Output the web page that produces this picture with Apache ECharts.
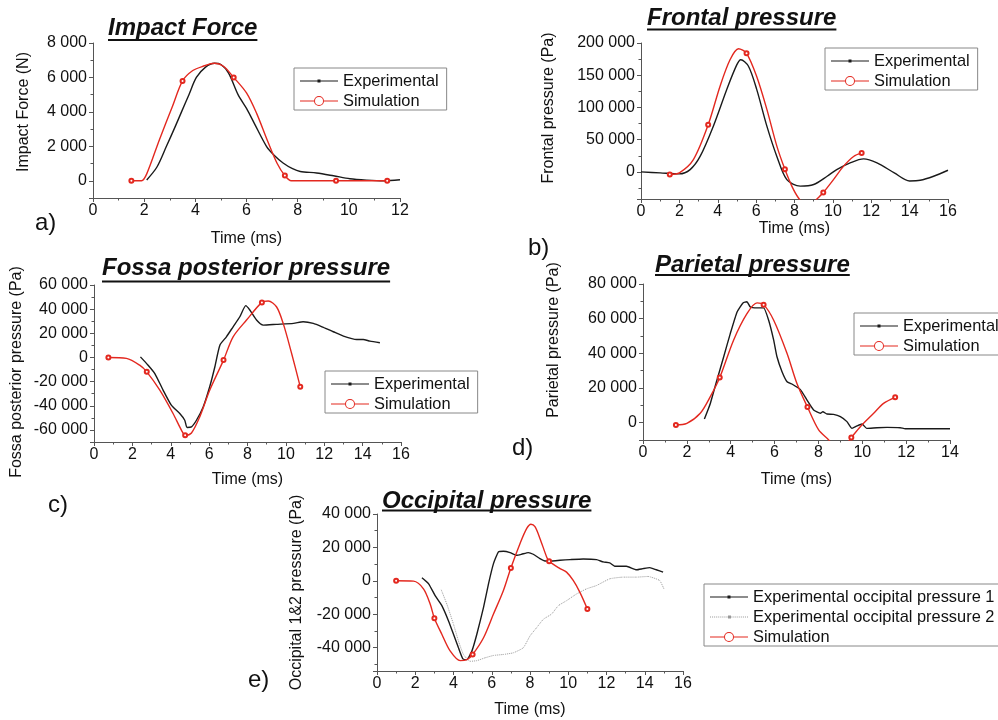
<!DOCTYPE html>
<html>
<head>
<meta charset="utf-8">
<title>Impact force and intracranial pressures</title>
<script src="https://cdn.jsdelivr.net/npm/echarts@6/dist/echarts.min.js"></script>
<style>
  html, body { margin: 0; padding: 0; background: #fff; }
  #chart { width: 998px; height: 720px; }
</style>
</head>
<body>
<div id="chart"></div>
<script>
// values: [time (ms), value]

// a) impact force (N)
const impactExp = [[2.1,50],[2.5,800],[2.87,2000],[3.2,3100],[3.46,4000],[3.75,5000],[4.04,6000],[4.4,6600],[4.75,6820],[5.0,6750],[5.3,6250],[5.67,5000],[6.0,4200],[6.3,3350],[6.78,2000],[7.1,1450],[7.43,1030],[7.8,700],[8.1,540],[8.74,450],[9.4,290],[10.04,120],[10.7,40],[11.35,0],[12.0,60]];
const impactSim = [[1.5,0],[1.9,0],[2.1,400],[2.6,2400],[3.1,4300],[3.5,5800],[3.9,6400],[4.3,6650],[4.75,6820],[5.1,6650],[5.5,6000],[6.0,5100],[6.4,3900],[6.8,2400],[7.2,1000],[7.5,300],[7.75,0],[9.5,0],[11.5,0]];
const impactMarks = [1.5,3.5,5.5,7.5,9.5,11.5];

// b) frontal pressure (Pa)
const frontalExp = [[0,0],[1,-1500],[2,-3000],[2.56,3600],[3.08,24000],[3.77,71000],[4.47,128000],[4.99,166000],[5.2,174000],[5.6,164000],[6.03,128000],[6.56,71000],[7.08,24000],[7.6,-12000],[8.3,-22000],[9.0,-19500],[9.7,-6700],[10.2,3600],[10.9,14000],[11.6,20200],[12.3,14000],[13.2,-1500],[14.0,-14000],[14.55,-13000],[15.25,-6700],[16,2600]];
const frontalSim = [[1.5,-4000],[2.0,-1500],[2.73,19000],[3.5,73000],[4.12,133000],[4.64,174000],[5.08,191000],[5.5,184000],[6.03,148000],[6.56,97000],[7.08,40000],[7.5,4000],[7.86,-22000],[8.2,-40000],[8.7,-56000],[9.17,-42000],[9.5,-32000],[10.03,-12000],[10.56,9000],[11.08,24000],[11.5,29500]];
const frontalMarks = [1.5,3.5,5.5,7.5,9.5,11.5];

// c) fossa posterior pressure (Pa)
const fossaExp = [[2.42,500],[2.82,-6400],[3.17,-13300],[3.6,-27000],[4.03,-39500],[4.47,-46400],[4.73,-52000],[4.85,-58000],[5.08,-57500],[5.34,-52000],[5.69,-41000],[6.03,-24300],[6.3,-7700],[6.56,10200],[6.9,17100],[7.25,25400],[7.6,33700],[7.91,42900],[8.12,39300],[8.47,31000],[8.82,26800],[9.5,27400],[10.4,28200],[10.9,29600],[11.43,28200],[11.95,24900],[12.47,21300],[13.0,17700],[13.69,14900],[14.03,14900],[14.38,13500],[14.9,12200]];
const fossaSim = [[0.75,0],[1.69,-800],[2.38,-6400],[2.75,-11900],[3.43,-27100],[4.12,-46400],[4.56,-60300],[4.75,-64400],[5.08,-62500],[5.51,-49200],[6.03,-27100],[6.75,-2200],[7.25,17100],[7.95,31000],[8.75,45600],[9.08,46700],[9.51,42000],[9.86,28200],[10.3,3300],[10.75,-24300]];
const fossaMarks = [0.75,2.75,4.75,6.75,8.75,10.75];

// d) parietal pressure (Pa)
const parietalExp = [[2.8,2100],[3.07,11100],[3.37,24500],[3.68,38000],[3.98,51400],[4.29,63900],[4.56,69100],[4.74,69800],[4.89,66800],[5.2,66200],[5.5,66200],[5.73,59100],[5.96,47600],[6.11,38000],[6.34,29400],[6.57,23600],[6.79,22300],[7.17,19200],[7.48,13000],[7.78,7300],[8.09,5400],[8.2,6300],[8.39,5000],[8.69,4800],[9.0,3500],[9.3,600],[9.53,-3300],[9.76,-1900],[9.99,-800],[10.2,-3300],[10.67,-2900],[11.13,-2700],[11.73,-2900],[11.96,-3500],[14.0,-3500]];
const parietalSim = [[1.5,-1300],[2.0,-400],[2.61,5400],[3.07,15000],[3.5,26000],[4.13,47600],[4.74,62900],[5.2,69100],[5.5,68100],[5.96,59100],[6.57,39900],[7.02,22600],[7.5,9000],[8.01,-4200],[8.47,-10000],[8.95,-17000],[9.5,-8600],[9.91,-2300],[10.52,5400],[10.97,11100],[11.5,14600]];
const parietalMarks = [1.5,3.5,5.5,7.5,9.5,11.5];

// e) occipital pressure (Pa)
const occipitalExp1 = [[2.35,1800],[2.7,-1800],[3.04,-8900],[3.39,-14900],[3.74,-24000],[4.0,-32000],[4.26,-40100],[4.49,-46700],[4.7,-47200],[4.96,-42100],[5.22,-32000],[5.57,-15900],[5.83,-1800],[6.09,10300],[6.35,17300],[6.61,17700],[6.96,16900],[7.3,15300],[7.56,15900],[7.91,16900],[8.17,15900],[8.52,13300],[8.78,11900],[9.13,11900],[9.57,12300],[10.1,12700],[10.78,13100],[11.48,12700],[11.83,11300],[12.17,10700],[12.43,8700],[13.04,8700],[13.57,6600],[13.91,7300],[14.26,7900],[14.6,6600],[14.96,5200]];
const occipitalExp2 = [[3.36,-5400],[3.65,-13900],[4.0,-26000],[4.26,-36100],[4.52,-44100],[4.87,-48200],[5.22,-47800],[5.65,-46100],[6.09,-44700],[6.61,-44100],[7.13,-43100],[7.65,-40100],[8.0,-33000],[8.35,-28000],[8.7,-23000],[9.13,-19900],[9.48,-14900],[9.91,-11900],[10.43,-7900],[10.96,-4800],[11.48,-2800],[12.17,1200],[12.87,2200],[13.57,2200],[14.17,2600],[14.78,200],[15.0,-4800]];
const occipitalSim = [[1.0,0],[1.91,-200],[2.43,-4800],[2.78,-13900],[3.0,-22400],[3.39,-32000],[3.83,-42100],[4.35,-47800],[4.7,-47200],[5.0,-44100],[5.57,-34100],[6.09,-19900],[6.61,-5800],[7.0,7700],[7.48,22400],[7.83,31400],[8.05,33900],[8.26,32400],[8.52,25400],[8.87,14300],[9.0,11700],[9.57,7300],[9.91,5200],[10.26,200],[10.61,-6900],[11.0,-16900]];
const occipitalMarks = [1,3,5,7,9,11];

// titles / axis names
const titles = ['Impact Force', 'Frontal pressure', 'Fossa posterior pressure', 'Parietal pressure', 'Occipital pressure'];
const yNames = ['Impact Force (N)', 'Frontal pressure (Pa)', 'Fossa posterior pressure (Pa)', 'Parietal pressure (Pa)', 'Occipital 1&2 pressure (Pa)'];
const panelTags = ['a)', 'b)', 'c)', 'd)', 'e)'];
const xMax = [12, 16, 16, 14, 16];
const yMin = [-1000, -42000, -70000, -10000, -54000];
const yMax = [8000, 200000, 60000, 80000, 40000];

const FONT = '"Liberation Sans", Arial, sans-serif';
const RED = '#e3281f';
const BLACK = '#1a1a1a';
const AXIS = '#555';

// layout per panel (px)
const grids = [
  {left: 93,  top: 43,  width: 307, height: 155},
  {left: 641, top: 43,  width: 307, height: 156},
  {left: 94,  top: 285, width: 307, height: 157},
  {left: 643, top: 284, width: 307, height: 156},
  {left: 377, top: 514, width: 306, height: 157}
];
const yNameGap = [61, 84, 69, 81, 72];
const yNamePad = [[0,0,0,17], [0,0,0,26], [0,17,0,0], [0,0,0,44], [0,0,0,0]];
const ySplit = [5, 5, 7, 5, 5];
const xNameGap = [33, 7, 30, 32, 31];
const legendPos = [[294,68], [825,48], [325,371], [854,313], [704,584]];
const titlePos = [[108,28.5,39], [647,18.5,28.5], [102,268.5,280.5], [655,265,274], [382,501,509.5]];
const tagPos = [[35,223], [528,248], [48,505], [512,448], [248,680]];

function fmt(v) {
  const s = String(Math.abs(v)).replace(/\B(?=(\d{3})+(?!\d))/g, ' ');
  return (v < 0 ? '-' : '') + s;
}

// legend icons: thin line with a small dot (experimental), line with open ring (simulation)
const EXP_ICON = 'path://M0,5.5H38V6.5H0Z M17.5,4.5H20.5V7.5H17.5Z';
let dotted = 'path://M17.5,4.5H20.5V7.5H17.5Z';
for (let x = 0; x < 38; x += 2) dotted += ' M' + x + ',5.5h1v1h-1Z';
const EXP2_ICON = dotted;
const SIM_ICON = 'path://M0,5.5H14V6.5H0Z M24,5.5H38V6.5H24Z ' +
  'M14,6a5,5 0 1,0 10,0a5,5 0 1,0 -10,0Z M15,6a4,4 0 1,1 8,0a4,4 0 1,1 -8,0Z';

function expSeries(name, data, i, smooth, color, dash) {
  return {
    name: name, type: 'line', xAxisIndex: i, yAxisIndex: i,
    data: data, symbol: 'none', smooth: smooth,
    lineStyle: {color: color, width: dash ? 1 : 1.4, type: dash ? 'dotted' : 'solid'},
    itemStyle: {color: color}, z: 2
  };
}
function simSeries(data, marks, i) {
  return {
    name: 'Simulation', type: 'line', xAxisIndex: i, yAxisIndex: i,
    data: data.map(p => marks.includes(p[0]) ? p : {value: p, symbol: 'none'}),
    smooth: 0.3, symbol: 'emptyCircle', symbolSize: 4, showSymbol: true,
    lineStyle: {color: RED, width: 1.4},
    itemStyle: {color: RED, borderWidth: 1}, z: 3
  };
}

const xAxes = grids.map((g, i) => ({
  type: 'value', gridIndex: i, min: 0, max: xMax[i], interval: 2,
  name: 'Time (ms)', nameLocation: 'middle', nameGap: xNameGap[i],
  nameTextStyle: {fontSize: 16, color: '#111', fontFamily: FONT},
  axisLine: {show: true, onZero: false, lineStyle: {color: AXIS, width: 1}},
  axisTick: {show: true, length: 4, lineStyle: {color: AXIS}},
  minorTick: {show: true, splitNumber: 2, length: 2.5, lineStyle: {color: AXIS}},
  axisLabel: {fontSize: 16, color: '#111', margin: 5, fontFamily: FONT},
  splitLine: {show: false}
}));

const yAxes = grids.map((g, i) => ({
  type: 'value', gridIndex: i, min: yMin[i], max: yMax[i], splitNumber: ySplit[i],
  name: yNames[i], nameLocation: 'middle', nameGap: yNameGap[i],
  nameTextStyle: {fontSize: 16, color: '#111', fontFamily: FONT, lineHeight: 16, padding: yNamePad[i]},
  axisLine: {show: true, onZero: false, lineStyle: {color: AXIS, width: 1}},
  axisTick: {show: true, length: 4, lineStyle: {color: AXIS}},
  minorTick: {show: true, splitNumber: 2, length: 2.5, lineStyle: {color: AXIS}},
  axisLabel: {fontSize: 16, color: '#111', margin: 6, fontFamily: FONT, showMinLabel: false, formatter: fmt},
  splitLine: {show: false}
}));

const legendBase = {
  orient: 'vertical', itemWidth: 38, itemHeight: 13, itemGap: 4,
  padding: [5, 8, 1, 6], borderColor: '#888', borderWidth: 1, borderRadius: 0,
  backgroundColor: '#fff', selectedMode: false,
  textStyle: {fontSize: 16.4, color: '#111', fontFamily: FONT, lineHeight: 16}
};
const legendData = [
  [{name: 'Experimental', icon: EXP_ICON}, {name: 'Simulation', icon: SIM_ICON}],
  [{name: 'Experimental', icon: EXP_ICON}, {name: 'Simulation', icon: SIM_ICON}],
  [{name: 'Experimental', icon: EXP_ICON}, {name: 'Simulation', icon: SIM_ICON}],
  [{name: 'Experimental', icon: EXP_ICON}, {name: 'Simulation', icon: SIM_ICON}],
  [{name: 'Experimental occipital pressure 1', icon: EXP_ICON},
   {name: 'Experimental occipital pressure 2', icon: EXP2_ICON},
   {name: 'Simulation', icon: SIM_ICON}]
];
const legends = legendData.map((d, i) => Object.assign({}, legendBase, {
  left: legendPos[i][0], top: legendPos[i][1], data: d
}));

// titles (bold italic, underlined) and panel tags
const TITLE_FONT = 'italic bold 24px "Liberation Sans"';
const measure = document.createElement('canvas').getContext('2d');
measure.font = TITLE_FONT;
const graphics = [];
titles.forEach((t, i) => {
  const [x, cy, uy] = titlePos[i];
  graphics.push({
    type: 'text', x: x, y: cy,
    style: {text: t, fontStyle: 'italic', fontWeight: 'bold', fontSize: 24, fontFamily: FONT,
            fill: '#111', verticalAlign: 'middle'}
  });
  graphics.push({
    type: 'rect', shape: {x: x, y: uy, width: measure.measureText(t).width, height: 2},
    style: {fill: '#111'}
  });
});
panelTags.forEach((t, i) => {
  graphics.push({
    type: 'text', x: tagPos[i][0], y: tagPos[i][1],
    style: {text: t, fontSize: 24, fontFamily: FONT, fill: '#111', verticalAlign: 'middle'}
  });
});

const series = [
  expSeries('Experimental', impactExp, 0, 0.3, BLACK),
  simSeries(impactSim, impactMarks, 0),
  expSeries('Experimental', frontalExp, 1, 0.3, BLACK),
  simSeries(frontalSim, frontalMarks, 1),
  expSeries('Experimental', fossaExp, 2, 0.2, BLACK),
  simSeries(fossaSim, fossaMarks, 2),
  expSeries('Experimental', parietalExp, 3, 0.15, BLACK),
  simSeries(parietalSim, parietalMarks, 3),
  expSeries('Experimental occipital pressure 1', occipitalExp1, 4, 0.15, BLACK),
  expSeries('Experimental occipital pressure 2', occipitalExp2, 4, 0.15, '#999', true),
  simSeries(occipitalSim, occipitalMarks, 4)
];

const chart = echarts.init(document.getElementById('chart'));
chart.setOption({
  animation: false,
  backgroundColor: '#fff',
  textStyle: {fontFamily: FONT},
  grid: grids,
  xAxis: xAxes,
  yAxis: yAxes,
  legend: legends,
  graphic: graphics,
  series: series
});
</script>
</body>
</html>
